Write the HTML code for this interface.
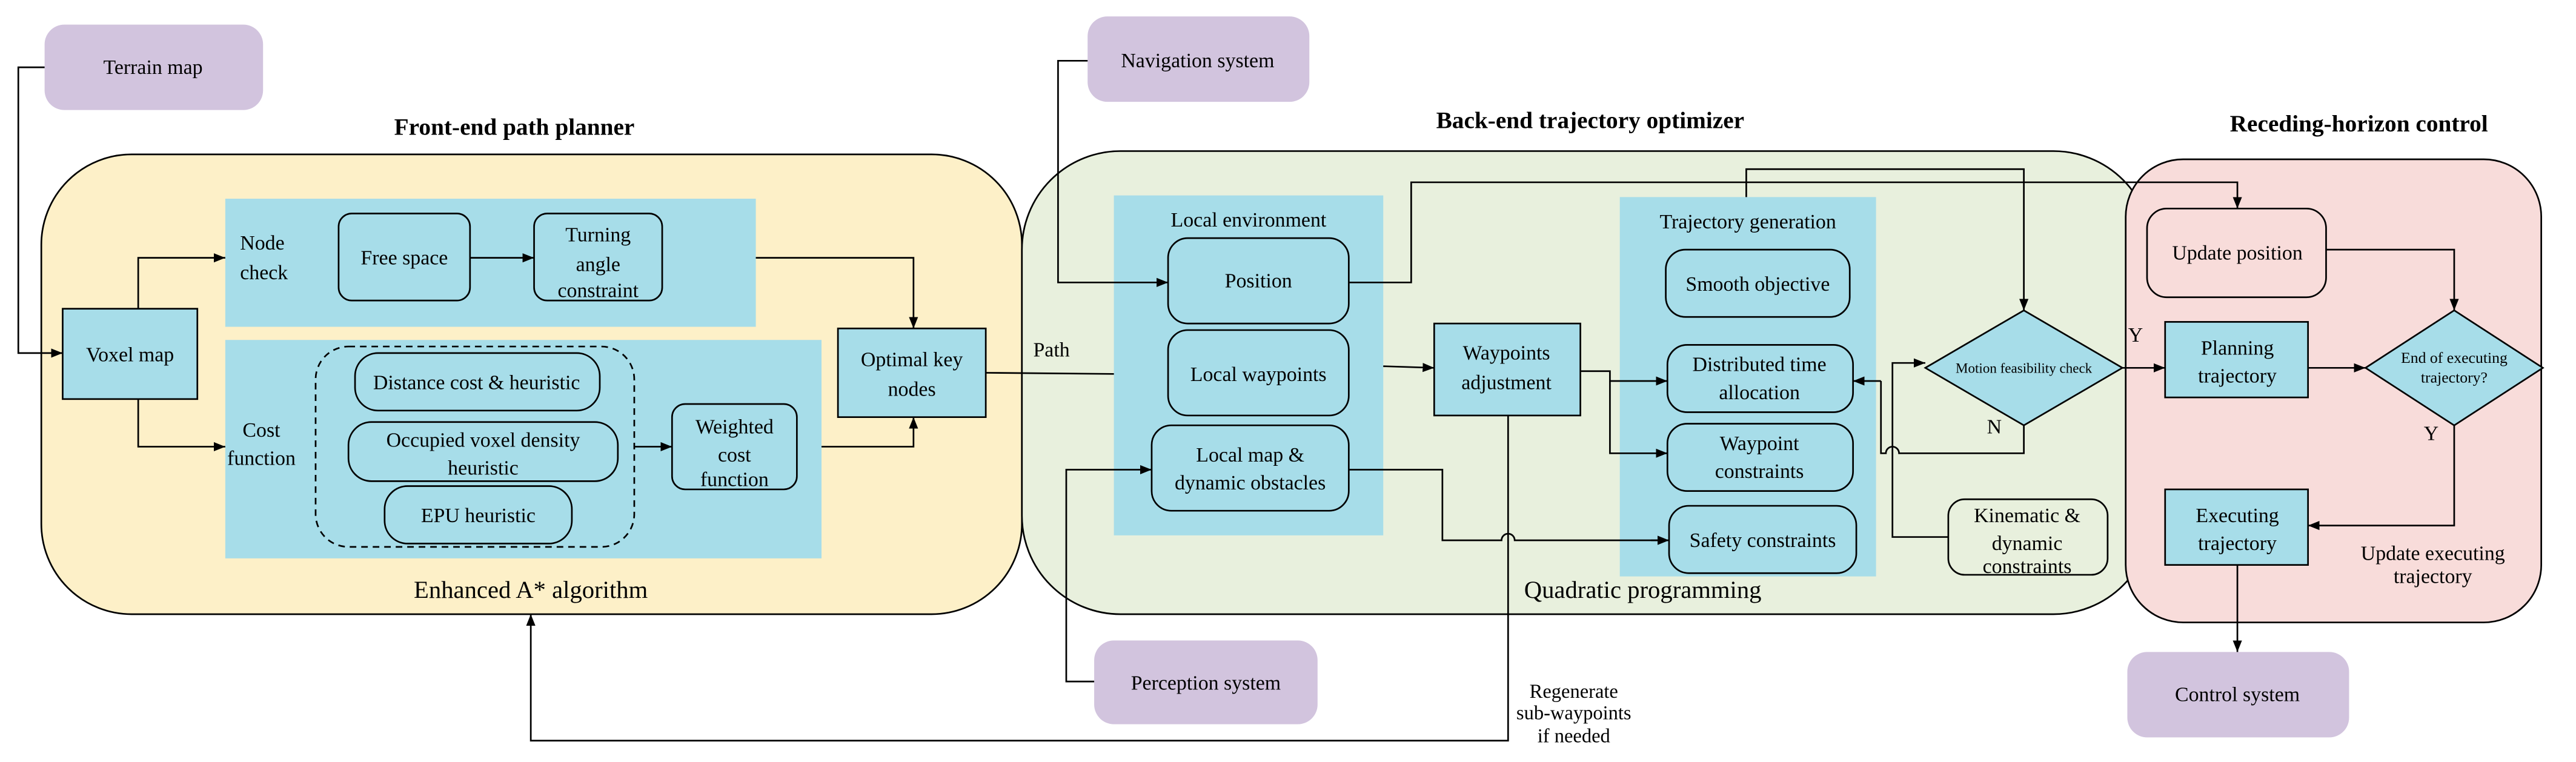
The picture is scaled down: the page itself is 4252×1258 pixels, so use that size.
<!DOCTYPE html>
<html><head><meta charset="utf-8"><style>html,body{margin:0;padding:0;background:#fff}svg{display:block}svg text{font-family:"Liberation Serif",serif}</style></head><body>
<svg xmlns="http://www.w3.org/2000/svg" width="4252" height="1258" viewBox="0 0 1568 464" font-size="12.5">
<defs><marker id="a" viewBox="0 0 10 10" refX="10" refY="5" markerWidth="7" markerHeight="7" markerUnits="userSpaceOnUse" orient="auto"><path d="M0,1 L10,5 L0,9 z" fill="#000"/></marker></defs>
<style>.l{fill:none;stroke:#000;stroke-width:1;marker-end:url(#a)}.n{fill:none;stroke:#000;stroke-width:1}.b{fill:#a7dde9;stroke:#000;stroke-width:1}.p{fill:#d2c4de}text{text-anchor:middle}</style>
<rect x="25" y="94" width="597" height="280" rx="55" fill="#fdf0c8" stroke="#000"/>
<rect x="622" y="92" width="688" height="282" rx="60" fill="#e8f0dd" stroke="#000"/>
<rect x="1294" y="97" width="253" height="282" rx="35" fill="#f8dcda" stroke="#000"/>
<text x="313" y="82" font-weight="bold" font-size="14.5">Front-end path planner</text>
<text x="968" y="78" font-weight="bold" font-size="14.5">Back-end trajectory optimizer</text>
<text x="1436" y="80" font-weight="bold" font-size="14.5">Receding-horizon control</text>
<text x="323" y="364" font-size="15">Enhanced A* algorithm</text>
<text x="1000" y="364" font-size="15">Quadratic programming</text>
<rect class="p" x="27" y="15" width="133" height="52" rx="12"/><text x="93" y="45">Terrain map</text>
<rect class="p" x="662" y="10" width="135" height="52" rx="12"/><text x="729" y="41">Navigation system</text>
<rect class="p" x="666" y="390" width="136" height="51" rx="12"/><text x="734" y="420">Perception system</text>
<rect class="p" x="1295" y="397" width="135" height="52" rx="12"/><text x="1362" y="427">Control system</text>
<rect x="137" y="121" width="323" height="78" fill="#a7dde9"/>
<rect x="137" y="207" width="363" height="133" fill="#a7dde9"/>
<text x="146" y="152" style="text-anchor:start">Node</text><text x="146" y="170" style="text-anchor:start">check</text>
<text x="159" y="266">Cost</text><text x="159" y="283">function</text>
<rect class="b" x="38" y="188" width="82" height="55"/><text x="79" y="220">Voxel map</text>
<rect class="b" x="206" y="130" width="80" height="53" rx="8"/><text x="246" y="161">Free space</text>
<rect class="b" x="325" y="130" width="78" height="53" rx="8"/><text x="364" y="147">Turning</text><text x="364" y="165">angle</text><text x="364" y="181">constraint</text>
<rect x="192" y="211" width="194" height="122" rx="20" fill="none" stroke="#000" stroke-dasharray="4,3"/>
<rect class="b" x="216" y="215" width="149" height="35" rx="14"/><text x="290" y="237">Distance cost &amp; heuristic</text>
<rect class="b" x="212" y="257" width="164" height="36" rx="14"/><text x="294" y="272">Occupied voxel density</text><text x="294" y="289">heuristic</text>
<rect class="b" x="234" y="296" width="114" height="35" rx="14"/><text x="291" y="318">EPU heuristic</text>
<rect class="b" x="409" y="246" width="76" height="52" rx="8"/><text x="447" y="264">Weighted</text><text x="447" y="281">cost</text><text x="447" y="296">function</text>
<rect class="b" x="510" y="200" width="90" height="54"/><text x="555" y="223">Optimal key</text><text x="555" y="241">nodes</text>
<polyline class="l" points="27,41 11,41 11,215 38,215"/>
<polyline class="l" points="84,188 84,157 137,157"/>
<polyline class="l" points="84,243 84,272 137,272"/>
<line class="l" x1="286" y1="157" x2="325" y2="157"/>
<line class="l" x1="386" y1="272" x2="409" y2="272"/>
<polyline class="l" points="460,157 556,157 556,200"/>
<polyline class="l" points="500,272 556,272 556,254"/>
<line class="l" x1="600" y1="227" x2="711" y2="228"/>
<text x="640" y="217">Path</text>
<rect x="678" y="119" width="164" height="207" fill="#a7dde9"/>
<text x="760" y="138">Local environment</text>
<rect class="b" x="711" y="145" width="110" height="52" rx="12"/><text x="766" y="175">Position</text>
<rect class="b" x="711" y="201" width="110" height="52" rx="12"/><text x="766" y="232">Local waypoints</text>
<rect class="b" x="701" y="259" width="120" height="52" rx="12"/><text x="761" y="281">Local map &amp;</text><text x="761" y="298">dynamic obstacles</text>
<rect x="986" y="120" width="156" height="231" fill="#a7dde9"/>
<text x="1064" y="139">Trajectory generation</text>
<rect class="b" x="1014" y="152" width="112" height="41" rx="12"/><text x="1070" y="177">Smooth objective</text>
<rect class="b" x="1015" y="210" width="113" height="41" rx="12"/><text x="1071" y="226">Distributed time</text><text x="1071" y="243">allocation</text>
<rect class="b" x="1015" y="258" width="113" height="41" rx="12"/><text x="1071" y="274">Waypoint</text><text x="1071" y="291">constraints</text>
<rect class="b" x="1016" y="308" width="114" height="41" rx="12"/><text x="1073" y="333">Safety constraints</text>
<rect class="b" x="873" y="197" width="89" height="56"/><text x="917" y="219">Waypoints</text><text x="917" y="237">adjustment</text>
<rect x="1186" y="304" width="97" height="46" rx="10" fill="#e8f0dd" stroke="#000"/><text x="1234" y="318">Kinematic &amp;</text><text x="1234" y="335">dynamic</text><text x="1234" y="349">constraints</text>
<polygon class="b" points="1232,189 1292,224 1232,259 1172,224"/>
<text x="1232" y="227" font-size="8.5">Motion feasibility check</text>
<polyline class="l" points="662,37 644,37 644,172 711,172"/>
<polyline class="l" points="666,415 649,415 649,286 701,286"/>
<line class="l" x1="842" y1="223" x2="873" y2="224"/>
<polyline class="l" points="821,172 859,172 859,111 1362,111 1362,127"/>
<path class="n" d="M821,286 L878,286 L878,329 L914,329 a4,4 0 0 1 8,0 L1010,329"/>
<line class="l" x1="1005" y1="329" x2="1016" y2="329"/>
<polyline class="l" points="962,226 980,226 980,232 1015,232"/>
<polyline class="l" points="980,232 980,276 1015,276"/>
<polyline class="l" points="918,253 918,451 323,451 323,374"/>
<text x="958" y="425" font-size="12">Regenerate</text><text x="958" y="438" font-size="12">sub-waypoints</text><text x="958" y="452" font-size="12">if needed</text>
<polyline class="l" points="1063,120 1063,103 1232,103 1232,189"/>
<path class="n" d="M1232,259 L1232,276 L1156,276 a4,4 0 0 0 -8,0 L1145,276 L1145,232"/>
<line class="l" x1="1145" y1="232" x2="1128" y2="232"/>
<polyline class="l" points="1186,327 1152,327 1152,221 1172,221"/>
<text x="1214" y="264">N</text>
<text x="1300" y="208">Y</text>
<line class="l" x1="1292" y1="224" x2="1318" y2="224"/>
<rect x="1307" y="127" width="109" height="54" rx="12" fill="#f8dcda" stroke="#000"/><text x="1362" y="158">Update position</text>
<rect class="b" x="1318" y="196" width="87" height="46"/><text x="1362" y="216">Planning</text><text x="1362" y="233">trajectory</text>
<rect class="b" x="1318" y="298" width="87" height="46"/><text x="1362" y="318">Executing</text><text x="1362" y="335">trajectory</text>
<polygon class="b" points="1494,189 1548,224 1494,259 1440,224"/>
<text x="1494" y="221" font-size="9.5">End of executing</text><text x="1494" y="233" font-size="9.5">trajectory?</text>
<polyline class="l" points="1416,152 1494,152 1494,189"/>
<line class="l" x1="1405" y1="224" x2="1440" y2="224"/>
<polyline class="l" points="1494,259 1494,320 1405,320"/>
<text x="1480" y="268">Y</text>
<text x="1481" y="341">Update executing</text><text x="1481" y="355">trajectory</text>
<line class="l" x1="1362" y1="344" x2="1362" y2="397"/>
</svg>
</body></html>
